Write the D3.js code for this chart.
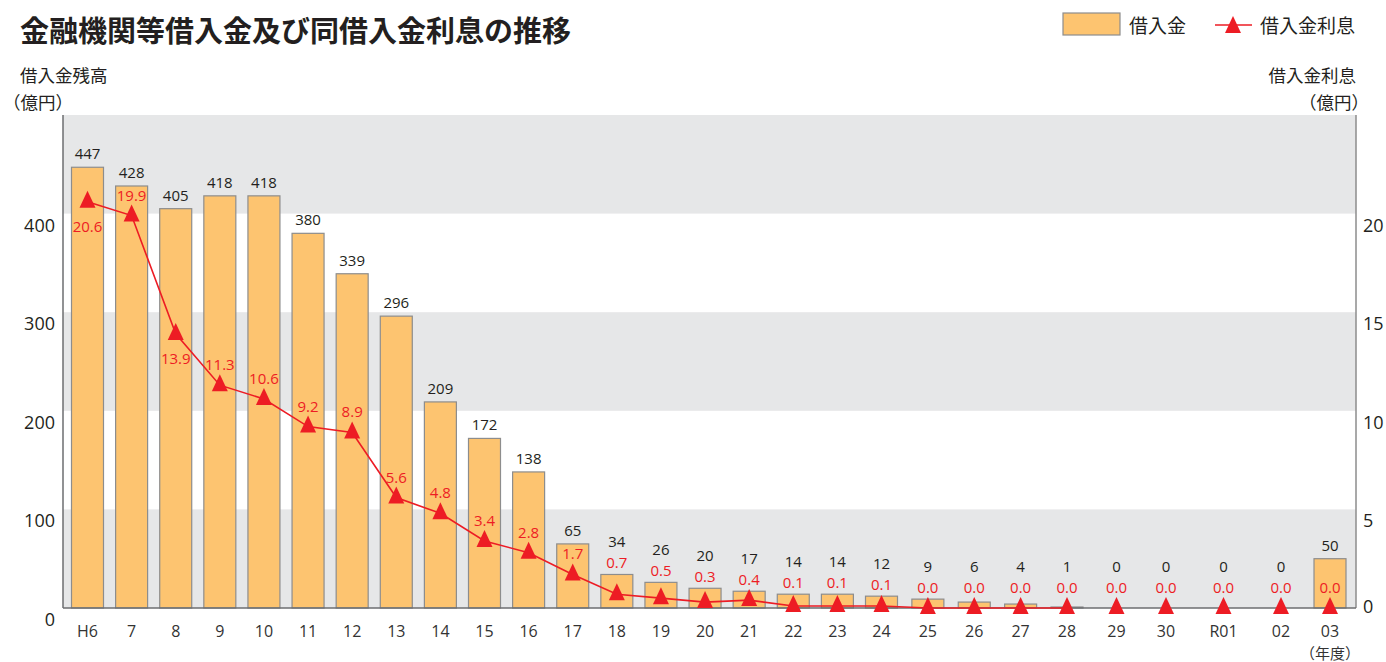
<!DOCTYPE html>
<html>
<head>
<meta charset="utf-8">
<script src="https://cdn.jsdelivr.net/npm/d3@7"></script>
<style>
  body { margin: 0; background: #fff; }
  text { font-family: "Open Sans", "Noto Sans CJK JP", sans-serif; }
  .jp { font-family: "Noto Sans CJK JP", sans-serif; }
</style>
</head>
<body>
<div id="chart"></div>
<script>
// chart data
const categories = ["H6","7","8","9","10","11","12","13","14","15","16","17","18","19","20",
  "21","22","23","24","25","26","27","28","29","30","R01","02","03"];
const loans = [447,428,405,418,418,380,339,296,209,172,138,65,34,26,20,17,14,14,12,9,6,4,1,0,0,0,0,50];
const interest = [20.6,19.9,13.9,11.3,10.6,9.2,8.9,5.6,4.8,3.4,2.8,1.7,0.7,0.5,0.3,0.4,0.1,0.1,0.1,
  0.0,0.0,0.0,0.0,0.0,0.0,0.0,0.0,0.0];
const leftTicks = [0,100,200,300,400];
const rightTicks = [0,5,10,15,20];
const lineLastCategory = "28";
const labelBelow = ["H6","8"];

const data = categories.map((c, i) => ({cat: c, idx: i, loan: loans[i], rate: interest[i]}));

const W = 1386, H = 662;
const plot = {left: 63, right: 1356, top: 115, bottom: 608};

const svg = d3.select("#chart")
  .append("svg")
    .attr("width", W)
    .attr("height", H);

// category centres: the original spacing widens toward the right end
const x = d3.scaleLinear()
  .domain([0, 18, 22, 24, 26, 27])
  .range([87.5, 881.5, 1067, 1166, 1281, 1330]);
const bw = 32;

const yL = d3.scaleLinear().domain([0, 500]).range([plot.bottom, plot.top]);
const yR = d3.scaleLinear().domain([0, 25]).range([plot.bottom, plot.top]);

// grey bands
[[0,100],[200,300],[400,500]].forEach(b => {
  svg.append("rect")
    .attr("x", plot.left)
    .attr("y", yL(b[1]))
    .attr("width", plot.right - plot.left)
    .attr("height", yL(b[0]) - yL(b[1]))
    .attr("fill", "#e6e7e8");
});

// bars
svg.selectAll("rect.bar")
  .data(data)
  .enter().append("rect")
  .attr("class", "bar")
  .attr("x", d => x(d.idx) - bw / 2)
  .attr("y", d => yL(d.loan))
  .attr("width", bw)
  .attr("height", d => plot.bottom - yL(d.loan))
  .attr("fill", d => d.loan > 0 ? "#fdc470" : "none")
  .attr("stroke", d => d.loan > 0 ? "#8d8d8d" : "none")
  .attr("stroke-width", 1.2);

// axes lines
svg.append("line").attr("x1", plot.left).attr("x2", plot.left).attr("y1", plot.top).attr("y2", plot.bottom)
  .attr("stroke", "#6d6e71").attr("stroke-width", 1.5);
svg.append("line").attr("x1", plot.right).attr("x2", plot.right).attr("y1", plot.top).attr("y2", plot.bottom)
  .attr("stroke", "#8d8d8d").attr("stroke-width", 1.5);
svg.append("line").attr("x1", plot.left).attr("x2", plot.right).attr("y1", plot.bottom).attr("y2", plot.bottom)
  .attr("stroke", "#6d6e71").attr("stroke-width", 1.5);

// tick labels
svg.selectAll("text.ytl")
  .data(leftTicks)
  .enter().append("text")
  .attr("x", 55)
  .attr("y", d => yL(d) + 11)
  .attr("text-anchor", "end")
  .attr("dominant-baseline", "central")
  .attr("fill", "#231f20")
  .style("font-size", "18px")
  .text(d => d);

svg.selectAll("text.ytr")
  .data(rightTicks)
  .enter().append("text")
  .attr("x", 1363)
  .attr("y", d => d === 0 ? yR(d) - 2 : yR(d) + 11)
  .attr("text-anchor", "start")
  .attr("dominant-baseline", "central")
  .attr("fill", "#231f20")
  .style("font-size", "18px")
  .text(d => d);

svg.selectAll("text.xt")
  .data(data)
  .enter().append("text")
  .attr("x", d => x(d.idx))
  .attr("y", 631)
  .attr("text-anchor", "middle")
  .attr("dominant-baseline", "central")
  .attr("fill", "#333")
  .style("font-size", "16px")
  .text(d => d.cat);

svg.append("text")
  .attr("class", "jp")
  .attr("x", x(categories.length - 1))
  .attr("y", 652)
  .attr("text-anchor", "middle")
  .attr("dominant-baseline", "central")
  .attr("fill", "#333")
  .style("font-size", "15px")
  .text("（年度）");

// interest line
const line = d3.line()
  .x(d => x(d.idx))
  .y(d => yR(d.rate));

const lineData = data.slice(0, categories.indexOf(lineLastCategory) + 1);
svg.append("path")
  .datum(lineData)
  .attr("fill", "none")
  .attr("stroke", "#ed1c24")
  .attr("stroke-width", 1.6)
  .attr("d", line);

const tri = "M0,-11L8,6L-8,6Z";
svg.selectAll("path.tri")
  .data(data)
  .enter().append("path")
  .attr("class", "tri")
  .attr("d", tri)
  .attr("transform", d => `translate(${x(d.idx)},${yR(d.rate)})`)
  .attr("fill", "#ed1c24");

// value labels
data.forEach(d => {
  const cx = x(d.idx);
  const yb = yL(d.loan);
  const yp = yR(d.rate);
  let ry;
  if (labelBelow.includes(d.cat)) {
    ry = yp + 24;
  } else {
    const cand = yp - 21;
    ry = (cand - 6 > yb) ? cand : Math.min(yb - 12, cand);
  }
  const by = ry < yb ? ry - 21 : yb - 14;

  svg.append("text")
    .attr("x", cx)
    .attr("y", ry)
    .attr("text-anchor", "middle")
    .attr("dominant-baseline", "central")
    .attr("fill", "#ed1c24")
    .style("font-size", "15px")
    .text(d.rate.toFixed(1));

  svg.append("text")
    .attr("x", cx)
    .attr("y", by)
    .attr("text-anchor", "middle")
    .attr("dominant-baseline", "central")
    .attr("fill", "#231f20")
    .style("font-size", "15px")
    .text(d.loan);
});

// title and axis captions
svg.append("text")
  .attr("class", "jp")
  .attr("x", 20)
  .attr("y", 29)
  .attr("dominant-baseline", "central")
  .attr("fill", "#231f20")
  .style("font-size", "29px")
  .style("font-weight", "bold")
  .text("金融機関等借入金及び同借入金利息の推移");

svg.append("text").attr("class", "jp")
  .attr("x", 20).attr("y", 74)
  .attr("dominant-baseline", "central")
  .attr("fill", "#231f20")
  .style("font-size", "17.5px")
  .text("借入金残高");
svg.append("text").attr("class", "jp")
  .attr("x", 3).attr("y", 101)
  .attr("dominant-baseline", "central")
  .attr("fill", "#231f20")
  .style("font-size", "17.5px")
  .text("（億円）");

svg.append("text").attr("class", "jp")
  .attr("x", 1356).attr("y", 74)
  .attr("text-anchor", "end")
  .attr("dominant-baseline", "central")
  .attr("fill", "#231f20")
  .style("font-size", "17.5px")
  .text("借入金利息");
svg.append("text").attr("class", "jp")
  .attr("x", 1369).attr("y", 101)
  .attr("text-anchor", "end")
  .attr("dominant-baseline", "central")
  .attr("fill", "#231f20")
  .style("font-size", "17.5px")
  .text("（億円）");

// legend
svg.append("rect")
  .attr("x", 1063).attr("y", 13)
  .attr("width", 57).attr("height", 22)
  .attr("fill", "#fdc470")
  .attr("stroke", "#8d8d8d")
  .attr("stroke-width", 1.2);
svg.append("text").attr("class", "jp")
  .attr("x", 1129).attr("y", 24)
  .attr("dominant-baseline", "central")
  .attr("fill", "#231f20")
  .style("font-size", "19px")
  .text("借入金");
svg.append("line")
  .attr("x1", 1215).attr("x2", 1252)
  .attr("y1", 25).attr("y2", 25)
  .attr("stroke", "#ed1c24").attr("stroke-width", 1.6);
svg.append("path")
  .attr("d", tri)
  .attr("transform", "translate(1233,27)")
  .attr("fill", "#ed1c24");
svg.append("text").attr("class", "jp")
  .attr("x", 1260).attr("y", 24)
  .attr("dominant-baseline", "central")
  .attr("fill", "#231f20")
  .style("font-size", "19px")
  .text("借入金利息");
</script>
</body>
</html>
